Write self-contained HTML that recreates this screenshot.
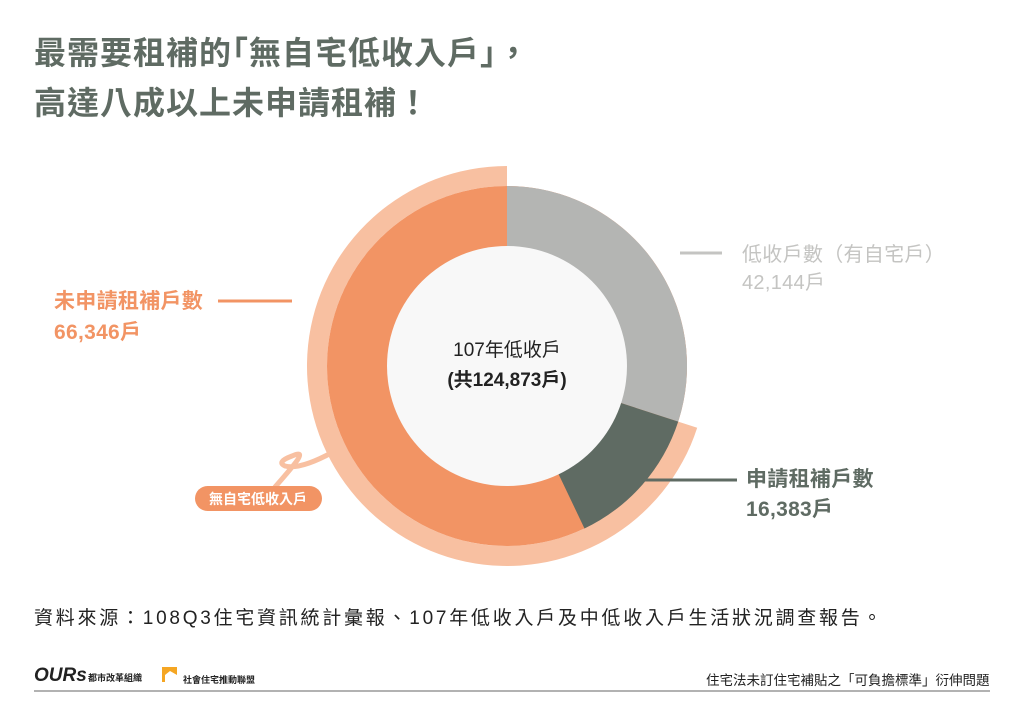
<!DOCTYPE html>
<html><head><meta charset="utf-8"><style>
body{margin:0;width:1024px;height:724px;background:#fff;position:relative;overflow:hidden;font-family:"Liberation Sans","Noto Sans CJK TC",sans-serif}
.a{position:absolute;white-space:nowrap}
</style></head><body>
<div class="a" style="left:34px;top:28px;font-size:32px;font-weight:bold;color:#5f6b63;line-height:50px;letter-spacing:1px">最需要租補的｢無自宅低收入戶｣，<br>高達八成以上未申請租補！</div>
<svg class="a" style="left:0;top:0" width="1024" height="724">
<g transform="translate(507,366)">
<path d="M0,-200 A200,200 0 1 0 190.2,61.8 L171.2,55.6 A180,180 0 1 1 0,-180Z" fill="#f8c0a1"/>
<circle r="180" fill="#f29464"/>
<path d="M0,0 L0,-180 A180,180 0 0 1 171.2,55.6Z" fill="#b4b5b3"/>
<path d="M0,0 L171.2,55.6 A180,180 0 0 1 77.5,162.5Z" fill="#5f6b63"/>
<circle r="120" fill="#f8f8f8"/>
</g>
<line x1="680" y1="253" x2="722" y2="253" stroke="#c4c4c2" stroke-width="3"/>
<line x1="218" y1="301" x2="292" y2="301" stroke="#f29464" stroke-width="3"/>
<line x1="640" y1="480" x2="737" y2="480" stroke="#5f6b63" stroke-width="3"/>
<path d="M275,487 Q290,470 296,462 Q305,450 292,456 Q276,462 285,466 Q300,470 333,452" fill="none" stroke="#f8c0a1" stroke-width="5" stroke-linecap="round"/>
<rect x="195" y="486" width="127" height="25" rx="12.5" fill="#f29464"/>
<text x="258" y="504" text-anchor="middle" font-size="14" font-weight="bold" fill="#fff" font-family="Liberation Sans,Noto Sans CJK TC,sans-serif">無自宅低收入戶</text>
<line x1="34" y1="691" x2="990" y2="691" stroke="#999" stroke-width="1.5"/>
<path d="M162,682 V667 H177 V675 L170,671 L165,675 V682Z" fill="#f5a623"/>
</svg>
<div class="a" style="left:742px;top:241px;font-size:20px;color:#c4c4c2;line-height:28px;letter-spacing:0.3px">低收戶數（有自宅戶）<br>42,144戶</div>
<div class="a" style="left:54px;top:286px;font-size:21px;font-weight:bold;color:#f29464;line-height:31px;letter-spacing:0.3px">未申請租補戶數<br>66,346戶</div>
<div class="a" style="left:746px;top:465px;font-size:21px;font-weight:bold;color:#5f6b63;line-height:30px;letter-spacing:0.3px">申請租補戶數<br>16,383戶</div>
<div class="a" style="left:407px;top:336px;width:200px;text-align:center;font-size:19px;color:#222;line-height:30px">107年低收戶<br><b>(共124,873戶)</b></div>
<div class="a" style="left:34px;top:603px;font-size:19px;color:#222;letter-spacing:2.75px">資料來源：108Q3住宅資訊統計彙報、107年低收入戶及中低收入戶生活狀況調查報告。</div>
<div class="a" style="left:34px;top:665px;font-size:19px;font-weight:900;color:#222;font-style:italic">OURs</div>
<div class="a" style="left:88px;top:671px;font-size:9px;font-weight:bold;color:#222">都市改革組織</div>
<div class="a" style="left:183px;top:673px;font-size:9px;font-weight:bold;color:#222">社會住宅推動聯盟</div>
<div class="a" style="left:706px;top:669px;font-size:13.5px;color:#222">住宅法未訂住宅補貼之「可負擔標準」衍伸問題</div>
</body></html>
